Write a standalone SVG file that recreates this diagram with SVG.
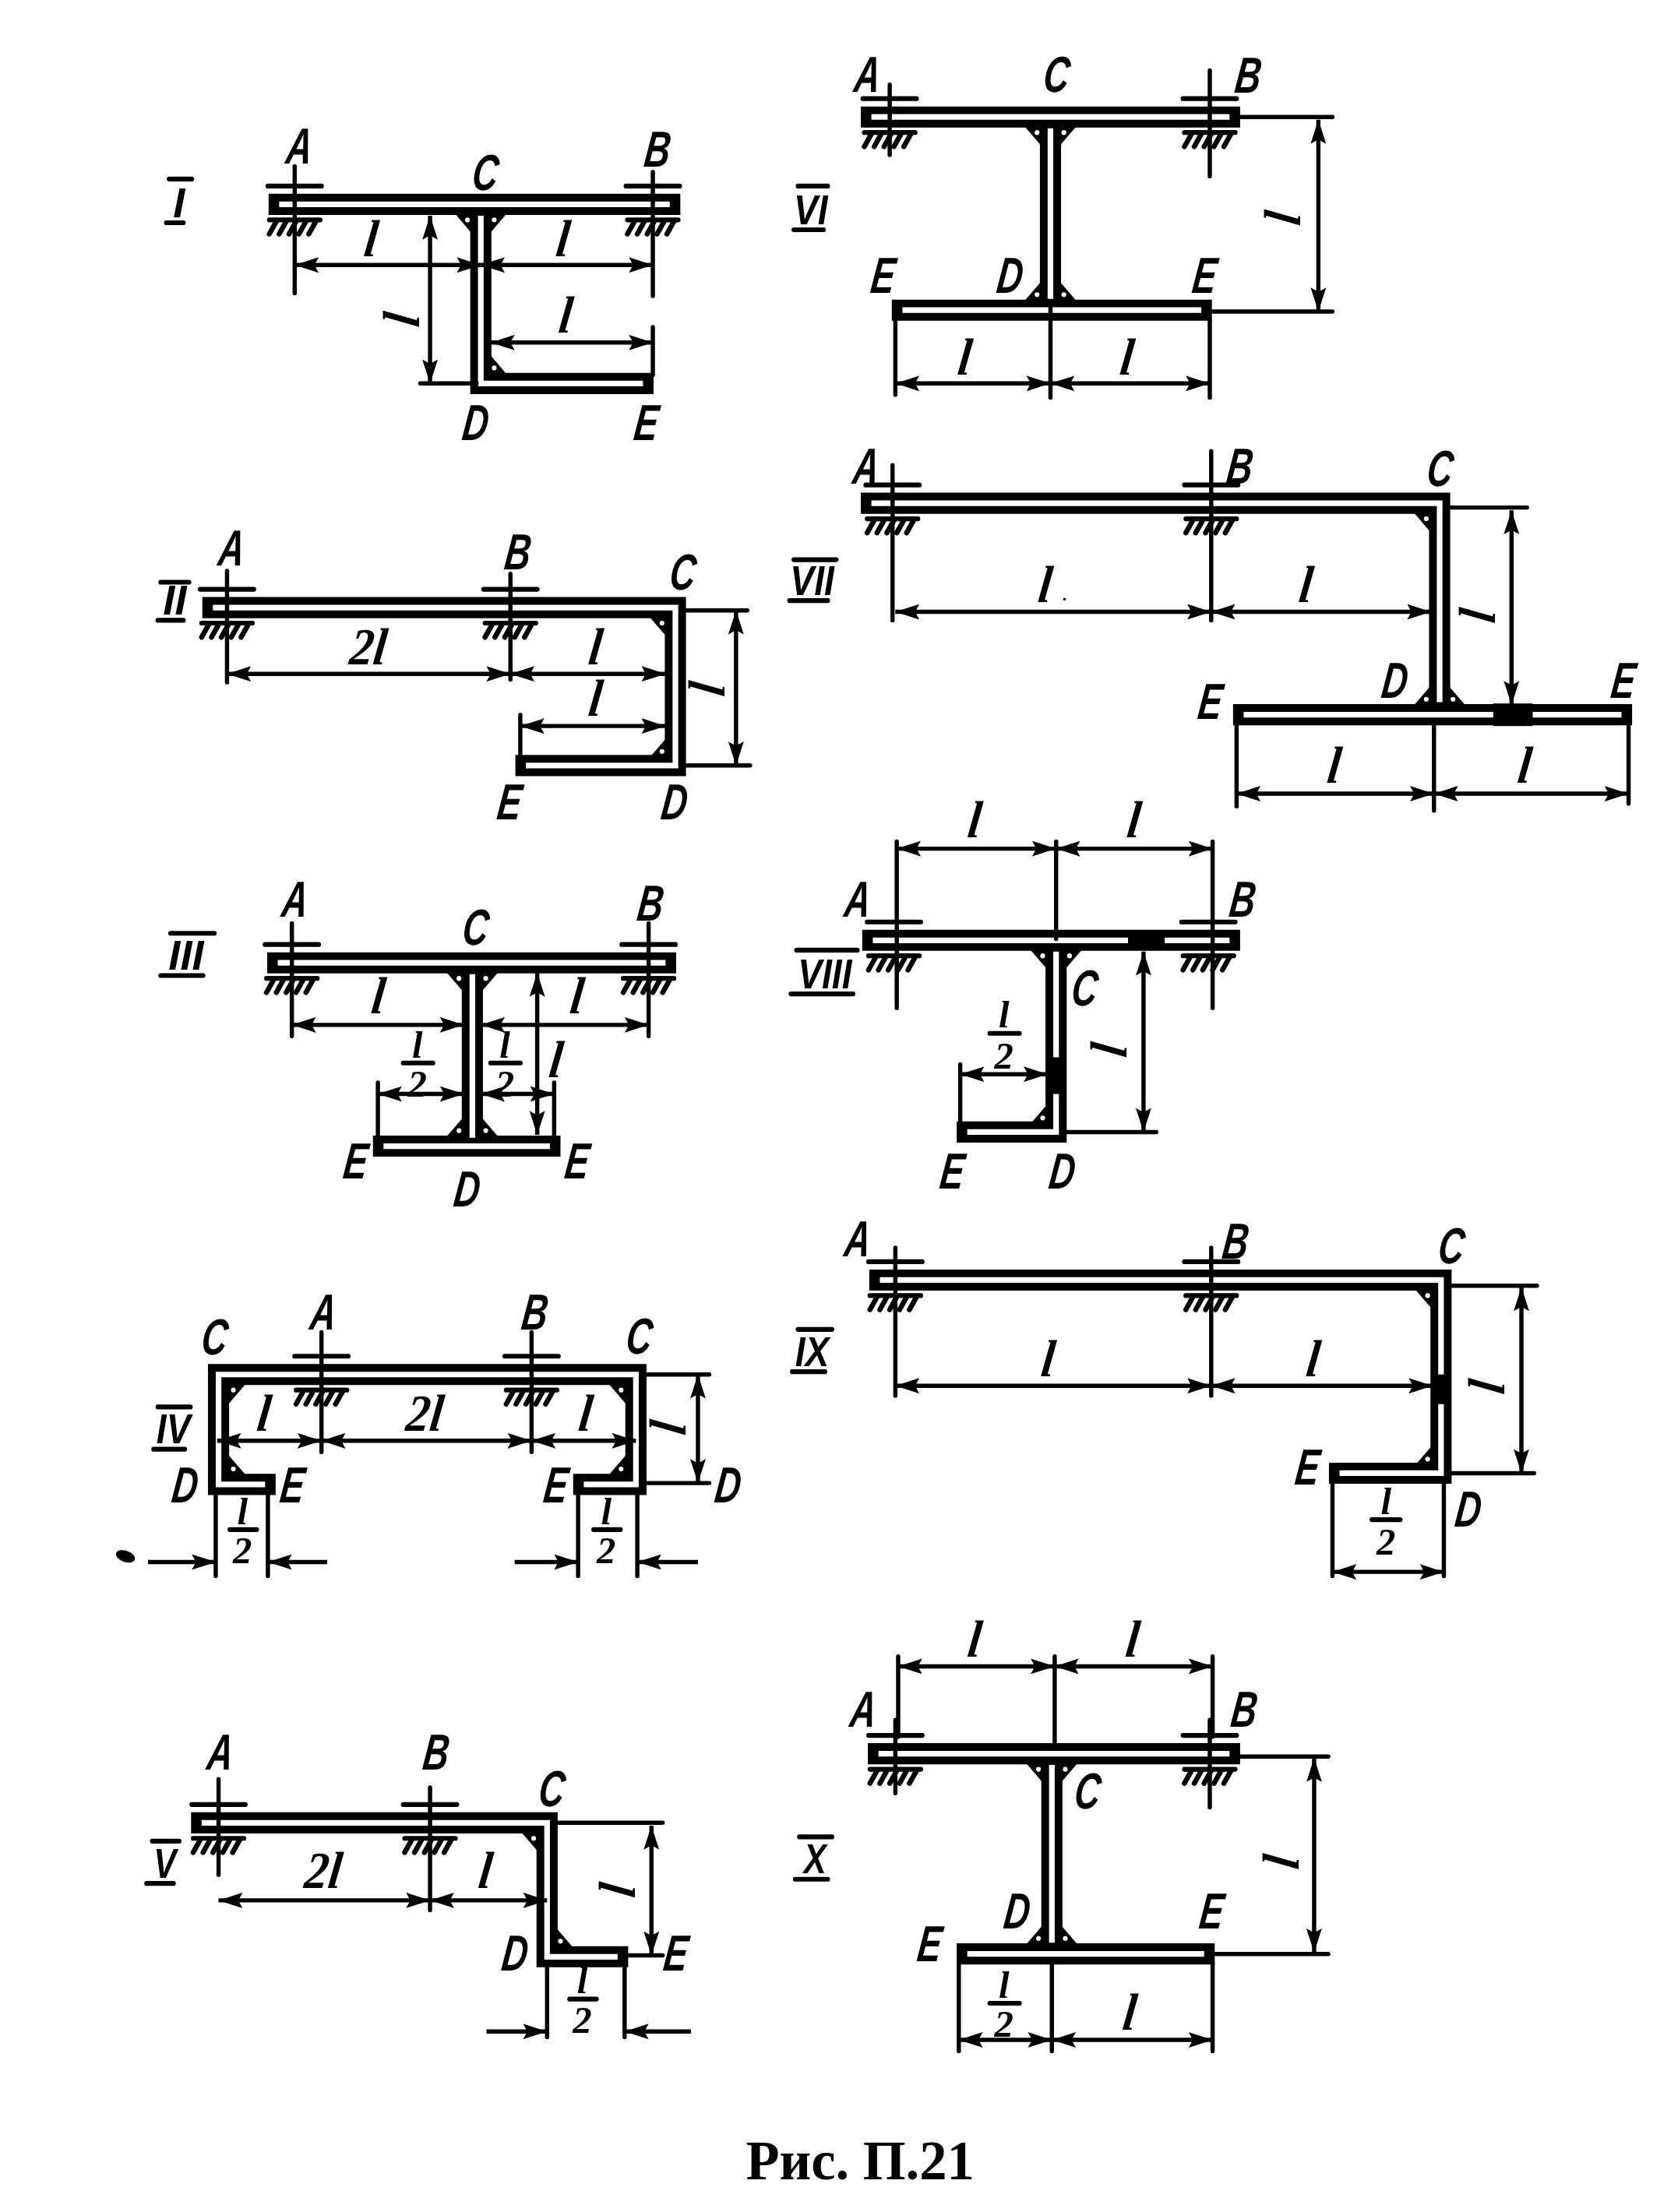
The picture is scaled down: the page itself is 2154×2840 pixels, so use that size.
<svg xmlns="http://www.w3.org/2000/svg" width="2154" height="2840" viewBox="0 0 2154 2840">
<style>
.o{fill:none;stroke:#000;stroke-width:15;stroke-linecap:square;stroke-linejoin:miter}
.w{fill:none;stroke:#fff;stroke-width:4;stroke-linejoin:miter}
.d{fill:none;stroke:#000;stroke-width:3;marker-start:url(#a);marker-end:url(#a)}
.h{fill:none;stroke:#000;stroke-width:3;marker-end:url(#a)}
.e{fill:none;stroke:#000;stroke-width:3;stroke-linecap:round}
.k{fill:none;stroke:#000;stroke-width:3.6;stroke-linecap:round}
.b{fill:none;stroke:#000;stroke-width:3.4;stroke-linecap:round}
.t{font:italic bold 36px "Liberation Sans",sans-serif;text-anchor:middle;fill:#000}
.r{font:italic bold 30px "Liberation Sans",sans-serif;text-anchor:middle;fill:#000}
.l{font:italic bold 37px "Liberation Serif",serif;text-anchor:middle;fill:#000}
.f{font:italic bold 27px "Liberation Serif",serif;text-anchor:middle;fill:#000}
.c{font:bold 40px "Liberation Serif",serif;text-anchor:middle;fill:#000}
</style>
<defs>
<marker id="a" markerUnits="userSpaceOnUse" markerWidth="18" markerHeight="11" refX="17" refY="5.5" orient="auto-start-reverse"><path d="M0 0L17 5.5L0 11L3 5.5Z"/></marker>
<g id="s"><path class="b" d="M-19 -13H19M-18 11H18"/><path class="k" d="M-13 12L-18 21M-6 12L-11 21M1 12L-4 21M8 12L3 21M15 12L10 21"/></g>
<g id="g"><path d="M0 0H-12L0 14Z"/><circle cx="-3.5" cy="4" r="1.7" fill="#fff"/></g>
</defs>
<g transform="scale(1.81)">

<g id="panel-I">
<path class="o" d="M198 145H475M341 152V272H456"/><path class="w" d="M198 145H475M341 153V272H456"/>
<use href="#s" x="209" y="145"/><use href="#s" x="463" y="145"/>
<use href="#g" transform="translate(335 152)"/><use href="#g" transform="translate(347 152) scale(-1 1)"/><use href="#g" transform="translate(347 265) scale(-1 -1)"/>
<path class="e" d="M209 118V208M463 122V210M298 272H338M463 232V266"/>
<path class="d" d="M209 188H341"/><path class="d" d="M341 188H463"/><path class="d" d="M348 243H463"/><path class="d" d="M305 153V272"/>
<path class="b" d="M120 127H136M118 158H130"/>
<text class="r" transform="translate(127 154)">I</text>
<text class="t" transform="translate(211 116) skewX(-7) scale(.7 1)">A</text><text class="t" transform="translate(465 118) skewX(-7) scale(.7 1)">B</text><text class="t" transform="translate(343 135) skewX(-7) scale(.7 1)">C</text><text class="t" transform="translate(336 312) skewX(-7) scale(.7 1)">D</text><text class="t" transform="translate(457 312) skewX(-7) scale(.7 1)">E</text>
<text class="l" transform="translate(262 182) skewX(-7) scale(.9 1)">l</text><text class="l" transform="translate(398 182) skewX(-7) scale(.9 1)">l</text><text class="l" transform="translate(400 236) skewX(-7) scale(.9 1)">l</text><text class="l" transform="translate(297 228) rotate(-90) skewX(-7) scale(.9 1)">l</text>
</g>

<g id="panel-II">
<path class="o" d="M151 431H479V543H373"/><path class="w" d="M151 431H479V543H373"/>
<use href="#s" x="161" y="431"/><use href="#s" x="362" y="431"/>
<use href="#g" transform="translate(473 438)"/><use href="#g" transform="translate(473 537) scale(1 -1)"/>
<path class="e" d="M161 405V484M362 407V482M369 507V537M486 433H530M486 543H532"/>
<path class="d" d="M161 478H362"/><path class="d" d="M362 478H472"/><path class="d" d="M369 515H472"/><path class="d" d="M522 433V543"/>
<path class="b" d="M114 413H134M112 440H130"/>
<text class="r" transform="translate(124 436)">II</text>
<text class="t" transform="translate(163 401) skewX(-7) scale(.7 1)">A</text><text class="t" transform="translate(366 404) skewX(-7) scale(.7 1)">B</text><text class="t" transform="translate(483 418) skewX(-7) scale(.7 1)">C</text><text class="t" transform="translate(477 581) skewX(-7) scale(.7 1)">D</text><text class="t" transform="translate(360 581) skewX(-7) scale(.7 1)">E</text>
<text class="l" transform="translate(260 471) skewX(-7) scale(.9 1)">2l</text><text class="l" transform="translate(421 471) skewX(-7) scale(.9 1)">l</text><text class="l" transform="translate(421 508) skewX(-7) scale(.9 1)">l</text><text class="l" transform="translate(514 490) rotate(-90) skewX(-7) scale(.9 1)">l</text>
</g>

<g id="panel-III">
<path class="o" d="M197 683H472M335 690V811M272 813H390"/><path class="w" d="M197 683H472M335 691V807M272 813H390"/>
<use href="#s" x="207" y="683"/><use href="#s" x="460" y="683"/>
<use href="#g" transform="translate(329 690)"/><use href="#g" transform="translate(341 690) scale(-1 1)"/><use href="#g" transform="translate(329 806) scale(1 -1)"/><use href="#g" transform="translate(341 806) scale(-1 -1)"/>
<path class="e" d="M207 655V735M460 655V735M268 768V810M393 768V810"/>
<path class="d" d="M207 727H329"/><path class="d" d="M341 727H460"/><path class="d" d="M381 690V805"/><path class="d" d="M268 776H329"/><path class="d" d="M341 776H393"/>
<path class="b" d="M121 662H152M114 692H144"/>
<text class="r" transform="translate(132 688)">III</text>
<text class="t" transform="translate(208 650) skewX(-7) scale(.7 1)">A</text><text class="t" transform="translate(460 653) skewX(-7) scale(.7 1)">B</text><text class="t" transform="translate(336 670) skewX(-7) scale(.7 1)">C</text><text class="t" transform="translate(251 836) skewX(-7) scale(.7 1)">E</text><text class="t" transform="translate(408 836) skewX(-7) scale(.7 1)">E</text><text class="t" transform="translate(330 856) skewX(-7) scale(.7 1)">D</text>
<text class="l" transform="translate(267 719) skewX(-7) scale(.9 1)">l</text><text class="l" transform="translate(408 719) skewX(-7) scale(.9 1)">l</text><text class="l" transform="translate(393 764) skewX(-7) scale(.9 1)">l</text>
<text class="f" transform="translate(296 750)">l</text><path class="b" d="M286 754H307"/><text class="f" transform="translate(296 778)">2</text>
<text class="f" transform="translate(358 750)">l</text><path class="b" d="M348 754H369"/><text class="f" transform="translate(358 778)">2</text>
</g>

<g id="panel-IV">
<path class="o" d="M188 1053H155V975H451V1053H414"/><path class="w" d="M188 1053H155V975H451V1053H414"/>
<use href="#s" x="228" y="975"/><use href="#s" x="377" y="975"/>
<use href="#g" transform="translate(162 982) scale(-1 1)"/><use href="#g" transform="translate(444 982)"/><use href="#g" transform="translate(162 1046) scale(-1 -1)"/><use href="#g" transform="translate(444 1046) scale(1 -1)"/>
<path class="e" d="M228 945V1030M377 945V1030M458 975H503M458 1052H503M153 1060V1118M190 1060V1118M410 1060V1118M452 1060V1118"/>
<path class="d" d="M154 1022H228"/><path class="d" d="M228 1022H377"/><path class="d" d="M377 1022H451"/><path class="d" d="M495 975V1052"/>
<path class="h" d="M105 1108H153"/><path class="h" d="M232 1108H190"/><path class="h" d="M365 1108H410"/><path class="h" d="M495 1108H452"/>
<ellipse cx="89" cy="1104" rx="7" ry="4" transform="rotate(20 89 1104)"/>
<path class="b" d="M112 998H135M109 1028H131"/>
<text class="r" transform="translate(123 1024) scale(.85 1)">IV</text>
<text class="t" transform="translate(151 961) skewX(-7) scale(.7 1)">C</text><text class="t" transform="translate(228 943) skewX(-7) scale(.7 1)">A</text><text class="t" transform="translate(378 943) skewX(-7) scale(.7 1)">B</text><text class="t" transform="translate(452 960) skewX(-7) scale(.7 1)">C</text><text class="t" transform="translate(130 1066) skewX(-7) scale(.7 1)">D</text><text class="t" transform="translate(206 1066) skewX(-7) scale(.7 1)">E</text><text class="t" transform="translate(393 1066) skewX(-7) scale(.7 1)">E</text><text class="t" transform="translate(515 1066) skewX(-7) scale(.7 1)">D</text>
<text class="l" transform="translate(186 1015) skewX(-7) scale(.9 1)">l</text><text class="l" transform="translate(300 1015) skewX(-7) scale(.9 1)">2l</text><text class="l" transform="translate(414 1015) skewX(-7) scale(.9 1)">l</text><text class="l" transform="translate(486 1014) rotate(-90) skewX(-7) scale(.9 1)">l</text>
<text class="f" transform="translate(172 1081)">l</text><path class="b" d="M163 1085H182"/><text class="f" transform="translate(172 1109)">2</text>
<text class="f" transform="translate(430 1081)">l</text><path class="b" d="M421 1085H440"/><text class="f" transform="translate(430 1109)">2</text>
</g>

<g id="panel-V">
<path class="o" d="M143 1293H388V1388H438"/><path class="w" d="M143 1293H388V1388H438"/>
<use href="#s" x="155" y="1293"/><use href="#s" x="305" y="1293"/>
<use href="#g" transform="translate(382 1300)"/><use href="#g" transform="translate(394 1381) scale(-1 -1)"/>
<path class="e" d="M155 1262V1330M305 1268V1355M392 1293H470M445 1387H470M388 1395V1445M443 1392V1445"/>
<path class="d" d="M155 1348H305"/><path class="d" d="M305 1348H388"/><path class="d" d="M462 1295V1387"/>
<path class="h" d="M345 1441H388"/><path class="h" d="M490 1441H443"/>
<path class="b" d="M108 1306H127M104 1336H123"/>
<text class="r" transform="translate(117 1332) scale(.8 1)">V</text>
<text class="t" transform="translate(155 1255) skewX(-7) scale(.7 1)">A</text><text class="t" transform="translate(308 1255) skewX(-7) scale(.7 1)">B</text><text class="t" transform="translate(390 1281) skewX(-7) scale(.7 1)">C</text><text class="t" transform="translate(364 1398) skewX(-7) scale(.7 1)">D</text><text class="t" transform="translate(478 1398) skewX(-7) scale(.7 1)">E</text>
<text class="l" transform="translate(228 1339) skewX(-7) scale(.9 1)">2l</text><text class="l" transform="translate(343 1339) skewX(-7) scale(.9 1)">l</text><text class="l" transform="translate(450 1342) rotate(-90) skewX(-7) scale(.9 1)">l</text>
<text class="f" transform="translate(413 1414)">l</text><path class="b" d="M404 1418H423"/><text class="f" transform="translate(413 1442)">2</text>
</g>

<g id="panel-VI">
<path class="o" d="M618 83H872M745 90V214M640 220H852"/><path class="w" d="M618 83H872M745 91V212M640 220H852"/>
<use href="#s" x="631" y="83"/><use href="#s" x="858" y="83"/>
<use href="#g" transform="translate(739 90)"/><use href="#g" transform="translate(751 90) scale(-1 1)"/><use href="#g" transform="translate(739 213) scale(1 -1)"/><use href="#g" transform="translate(751 213) scale(-1 -1)"/>
<path class="e" d="M631 60V110M858 50V125M880 83H945M860 221H945M635 227V280M745 218V282M858 227V282"/>
<path class="d" d="M635 272H745"/><path class="d" d="M745 272H858"/><path class="d" d="M935 85V221"/>
<path class="b" d="M566 132H587M563 163H584"/>
<text class="r" transform="translate(575 159) scale(.85 1)">VI</text>
<text class="t" transform="translate(614 65) skewX(-7) scale(.7 1)">A</text><text class="t" transform="translate(748 65) skewX(-7) scale(.7 1)">C</text><text class="t" transform="translate(884 66) skewX(-7) scale(.7 1)">B</text><text class="t" transform="translate(625 208) skewX(-7) scale(.7 1)">E</text><text class="t" transform="translate(715 208) skewX(-7) scale(.7 1)">D</text><text class="t" transform="translate(853 208) skewX(-7) scale(.7 1)">E</text>
<text class="l" transform="translate(683 266) skewX(-7) scale(.9 1)">l</text><text class="l" transform="translate(798 266) skewX(-7) scale(.9 1)">l</text><text class="l" transform="translate(922 156) rotate(-90) skewX(-7) scale(.9 1)">l</text>
</g>

<g id="panel-VII">
<path class="o" d="M618 357H1021V502M882 507H1150"/><path class="w" d="M618 357H1021V498M882 507H1150"/>
<use href="#s" x="633" y="357"/><use href="#s" x="859" y="357"/>
<use href="#g" transform="translate(1015 364)"/><use href="#g" transform="translate(1015 500) scale(1 -1)"/><use href="#g" transform="translate(1027 500) scale(-1 -1)"/>
<rect x="1059" y="499" width="28" height="16"/>
<path class="e" d="M633 330V440M859 320V440M1025 360H1083M877 515V572M1017 515V575M1155 515V570"/>
<path class="d" d="M635 434H859"/><path class="d" d="M859 434H1015"/><path class="d" d="M1072 362V500"/><path class="d" d="M877 563H1017"/><path class="d" d="M1017 563H1155"/>
<path class="b" d="M563 397H593M560 426H587"/>
<text class="r" transform="translate(576 422) scale(.85 1)">VII</text>
<text class="t" transform="translate(613 343) skewX(-7) scale(.7 1)">A</text><text class="t" transform="translate(878 343) skewX(-7) scale(.7 1)">B</text><text class="t" transform="translate(1020 345) skewX(-7) scale(.7 1)">C</text><text class="t" transform="translate(988 495) skewX(-7) scale(.7 1)">D</text><text class="t" transform="translate(857 510) skewX(-7) scale(.7 1)">E</text><text class="t" transform="translate(1150 495) skewX(-7) scale(.7 1)">E</text>
<text class="l" transform="translate(740 427) skewX(-7) scale(.9 1)">l</text><circle cx="755" cy="425" r="1"/><text class="l" transform="translate(925 427) skewX(-7) scale(.9 1)">l</text><text class="l" transform="translate(1060 438) rotate(-90) skewX(-7) scale(.9 1)">l</text><text class="l" transform="translate(945 555) skewX(-7) scale(.9 1)">l</text><text class="l" transform="translate(1080 555) skewX(-7) scale(.9 1)">l</text>
</g>

<g id="panel-VIII">
<path class="o" d="M619 667H872M749 674V803H686"/><path class="w" d="M619 667H800M826 667H872M749 675V803H686"/>
<use href="#s" x="634" y="667"/><use href="#s" x="857" y="667"/>
<use href="#g" transform="translate(743 674)"/><use href="#g" transform="translate(755 674) scale(-1 1)"/><use href="#g" transform="translate(743 797) scale(1 -1)"/>
<rect x="743" y="750" width="12" height="26"/>
<path class="e" d="M636 597V715M749 597V666M860 597V715M755 803H820M681 755V796"/>
<path class="d" d="M636 602H749"/><path class="d" d="M749 602H860"/><path class="d" d="M811 675V803"/><path class="d" d="M681 762H743"/>
<path class="b" d="M565 674H608M561 705H605"/>
<text class="r" transform="translate(585 701) scale(.85 1)">VIII</text>
<text class="t" transform="translate(607 650) skewX(-7) scale(.7 1)">A</text><text class="t" transform="translate(880 650) skewX(-7) scale(.7 1)">B</text><text class="t" transform="translate(768 713) skewX(-7) scale(.7 1)">C</text><text class="t" transform="translate(674 843) skewX(-7) scale(.7 1)">E</text><text class="t" transform="translate(752 843) skewX(-7) scale(.7 1)">D</text>
<text class="l" transform="translate(690 594) skewX(-7) scale(.9 1)">l</text><text class="l" transform="translate(803 594) skewX(-7) scale(.9 1)">l</text><text class="l" transform="translate(799 746) rotate(-90) skewX(-7) scale(.9 1)">l</text>
<text class="f" transform="translate(712 729)">l</text><path class="b" d="M702 733H723"/><text class="f" transform="translate(712 758)">2</text>
</g>

<g id="panel-IX">
<path class="o" d="M624 908H1022V1045H950"/><path class="w" d="M624 908H1022V975M1022 996V1045H950"/>
<use href="#s" x="635" y="908"/><use href="#s" x="859" y="908"/>
<use href="#g" transform="translate(1016 915)"/><use href="#g" transform="translate(1016 1039) scale(1 -1)"/>
<path class="e" d="M635 885V990M859 885V990M1028 912H1090M1028 1045H1088M945 1052V1118M1024 1052V1118"/>
<path class="d" d="M635 983H859"/><path class="d" d="M859 983H1016"/><path class="d" d="M1079 913V1045"/><path class="d" d="M945 1115H1024"/>
<path class="b" d="M566 943H590M562 973H585"/>
<text class="r" transform="translate(576 969) scale(.85 1)">IX</text>
<text class="t" transform="translate(607 891) skewX(-7) scale(.7 1)">A</text><text class="t" transform="translate(875 893) skewX(-7) scale(.7 1)">B</text><text class="t" transform="translate(1028 896) skewX(-7) scale(.7 1)">C</text><text class="t" transform="translate(926 1053) skewX(-7) scale(.7 1)">E</text><text class="t" transform="translate(1040 1083) skewX(-7) scale(.7 1)">D</text>
<text class="l" transform="translate(742 976) skewX(-7) scale(.9 1)">l</text><text class="l" transform="translate(930 976) skewX(-7) scale(.9 1)">l</text><text class="l" transform="translate(1067 985) rotate(-90) skewX(-7) scale(.9 1)">l</text>
<text class="f" transform="translate(983 1074)">l</text><path class="b" d="M973 1078H993"/><text class="f" transform="translate(983 1103)">2</text>
</g>

<g id="panel-X">
<path class="o" d="M623 1244H872M746 1251V1380M686 1386H854"/><path class="w" d="M623 1244H872M746 1252V1378M686 1386H854"/>
<use href="#s" x="635" y="1244"/><use href="#s" x="858" y="1244"/>
<use href="#g" transform="translate(740 1251)"/><use href="#g" transform="translate(752 1251) scale(-1 1)"/><use href="#g" transform="translate(740 1379) scale(1 -1)"/><use href="#g" transform="translate(752 1379) scale(-1 -1)"/>
<path class="e" d="M637 1175V1232M748 1175V1240M860 1175V1232M635 1220V1272M858 1220V1282M880 1246H942M862 1386H942M680 1392V1455M746 1392V1455M860 1392V1455"/>
<path class="d" d="M637 1182H748"/><path class="d" d="M748 1182H860"/><path class="d" d="M932 1247V1385"/><path class="d" d="M680 1447H746"/><path class="d" d="M746 1447H860"/>
<path class="b" d="M567 1303H590M564 1333H587"/>
<text class="r" transform="translate(578 1329) scale(.8 1)">X</text>
<text class="t" transform="translate(611 1225) skewX(-7) scale(.7 1)">A</text><text class="t" transform="translate(881 1225) skewX(-7) scale(.7 1)">B</text><text class="t" transform="translate(770 1283) skewX(-7) scale(.7 1)">C</text><text class="t" transform="translate(720 1368) skewX(-7) scale(.7 1)">D</text><text class="t" transform="translate(858 1368) skewX(-7) scale(.7 1)">E</text><text class="t" transform="translate(658 1391) skewX(-7) scale(.7 1)">E</text>
<text class="l" transform="translate(690 1175) skewX(-7) scale(.9 1)">l</text><text class="l" transform="translate(802 1175) skewX(-7) scale(.9 1)">l</text><text class="l" transform="translate(921 1322) rotate(-90) skewX(-7) scale(.9 1)">l</text><text class="l" transform="translate(800 1440) skewX(-7) scale(.9 1)">l</text>
<text class="f" transform="translate(712 1417)">l</text><path class="b" d="M702 1421H723"/><text class="f" transform="translate(712 1445)">2</text>
</g>

<text id="caption" class="c" transform="translate(610 1546)" textLength="162" lengthAdjust="spacingAndGlyphs">Рис. П.21</text>
</g>
</svg>
